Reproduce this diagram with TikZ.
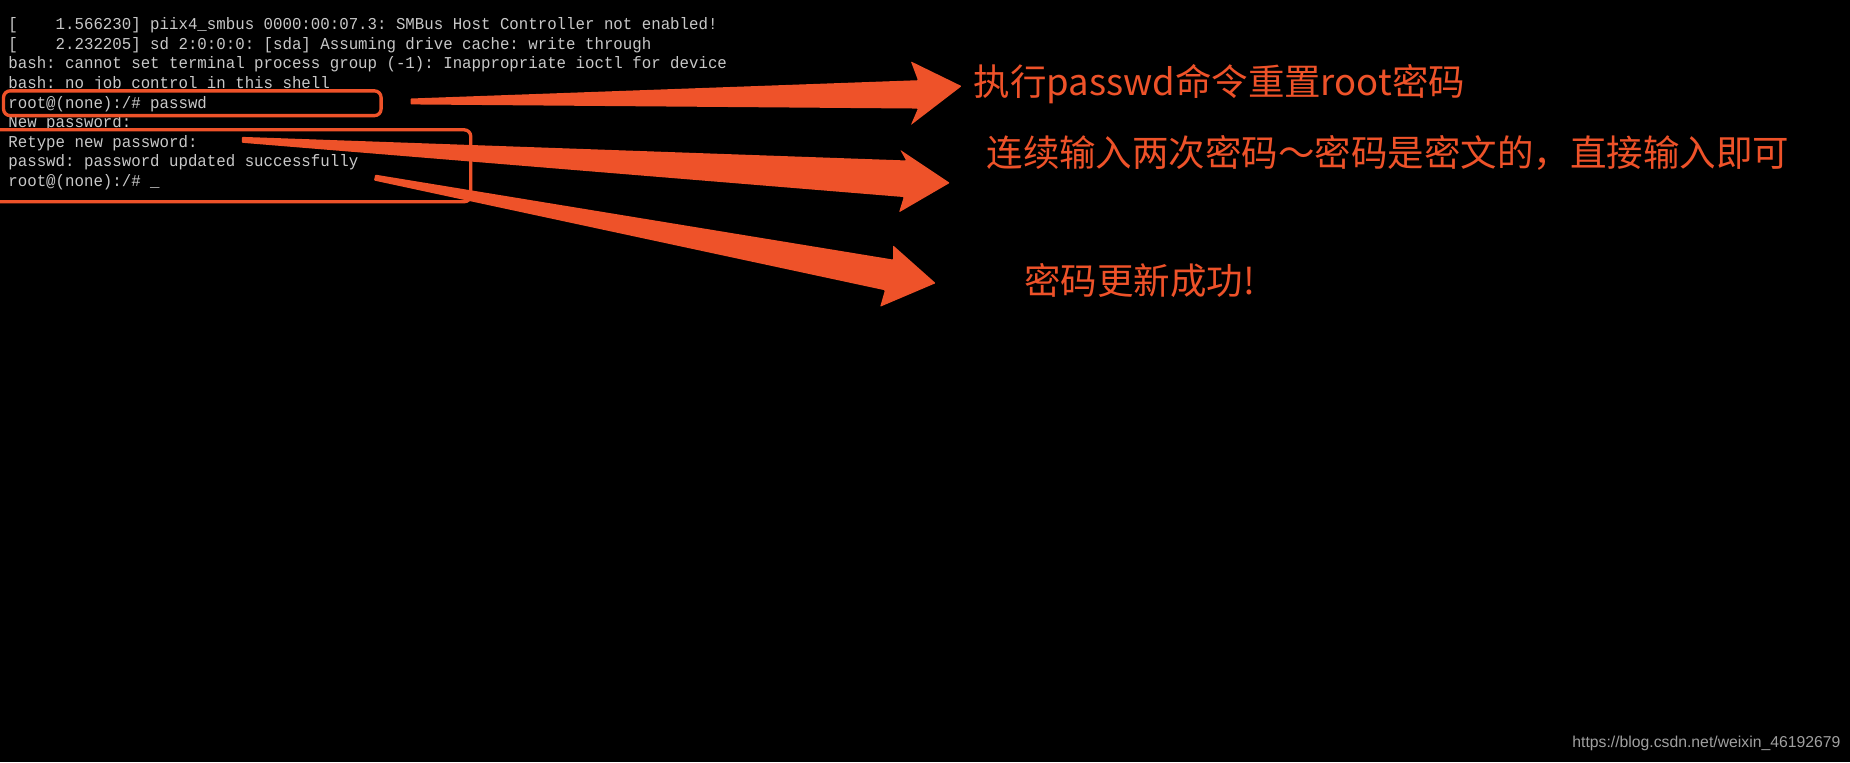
\documentclass[tikz,border=0pt]{standalone}
\usepackage{fontspec}
\setmonofont{Liberation Mono}
\setsansfont{Liberation Sans}
\newfontfamily\cjk{Noto Sans CJK SC}
\definecolor{markorange}{HTML}{EE5229}
\definecolor{term}{HTML}{C8C8C8}
\tikzset{
  termline/.style={anchor=base west,inner sep=0pt,text=term,font=\ttfamily\fontsize{20}{20}\selectfont,xscale=0.95},
  notetext/.style={anchor=west,inner sep=0pt,text=markorange,font=\cjk\fontsize{44}{44}\selectfont},
  markbox/.style={draw=markorange,line width=4pt,rounded corners=8pt}
}
\begin{document}
\begin{tikzpicture}[x=0.05cm,y=-0.05cm]
\fill[black] (0,0) rectangle (1568,646);
\useasboundingbox (0,0) rectangle (1568,646);
% terminal
\node[termline] (l1) at (7,25) {[\ \ \ \ 1.566230] piix4\_smbus 0000:00:07.3: SMBus Host Controller not enabled!};
\node[termline] (l2) at (7,42) {[\ \ \ \ 2.232205] sd 2:0:0:0: [sda] Assuming drive cache: write through};
\node[termline] (l3) at (7,58) {bash: cannot set terminal process group (-1): Inappropriate ioctl for device};
\node[termline] (l4) at (7,75) {bash: no job control in this shell};
\node[termline] (l5) at (7,92) {root@(none):/\# passwd};
\node[termline] (l6) at (7,108) {New password:};
\node[termline] (l7) at (7,125) {Retype new password:};
\node[termline] (l8) at (7,141) {passwd: password updated successfully};
\node[termline] (l9) at (7,158) {root@(none):/\# \_};
% boxes
\draw[markbox] (3,77) rectangle (323,98);
\draw[markbox] (0,110) -- (399,110) -- (399,171) -- (0,171);
% arrows
\fill[markorange,rounded corners=1pt] (348,83.5) -- (778,68) -- (772,52) -- (815,73) -- (772,106) -- (778,92) -- (348,88.5) -- cycle;
\fill[markorange,rounded corners=1pt] (205,116) -- (768,136) -- (763,127) -- (805,155) -- (762,180) -- (766,167) -- (205,121) -- cycle;
\fill[markorange,rounded corners=1pt] (318,148) -- (757,220) -- (757,208) -- (793,240) -- (746,260) -- (750,246) -- (317,153) -- cycle;
% notes
\node[notetext] (n1) at (825,71) {执行passwd命令重置root密码};
\node[notetext] (n2) at (836,130) {连续输入两次密码～密码是密文的，直接输入即可};
\node[notetext] (n3) at (868,238) {密码更新成功!};
\node[anchor=east,inner sep=0pt,text=term!80!black,font=\sffamily\fontsize{19}{19}\selectfont] (wm) at (1560,630) {https://blog.csdn.net/weixin\_46192679};
\end{tikzpicture}
\end{document}
